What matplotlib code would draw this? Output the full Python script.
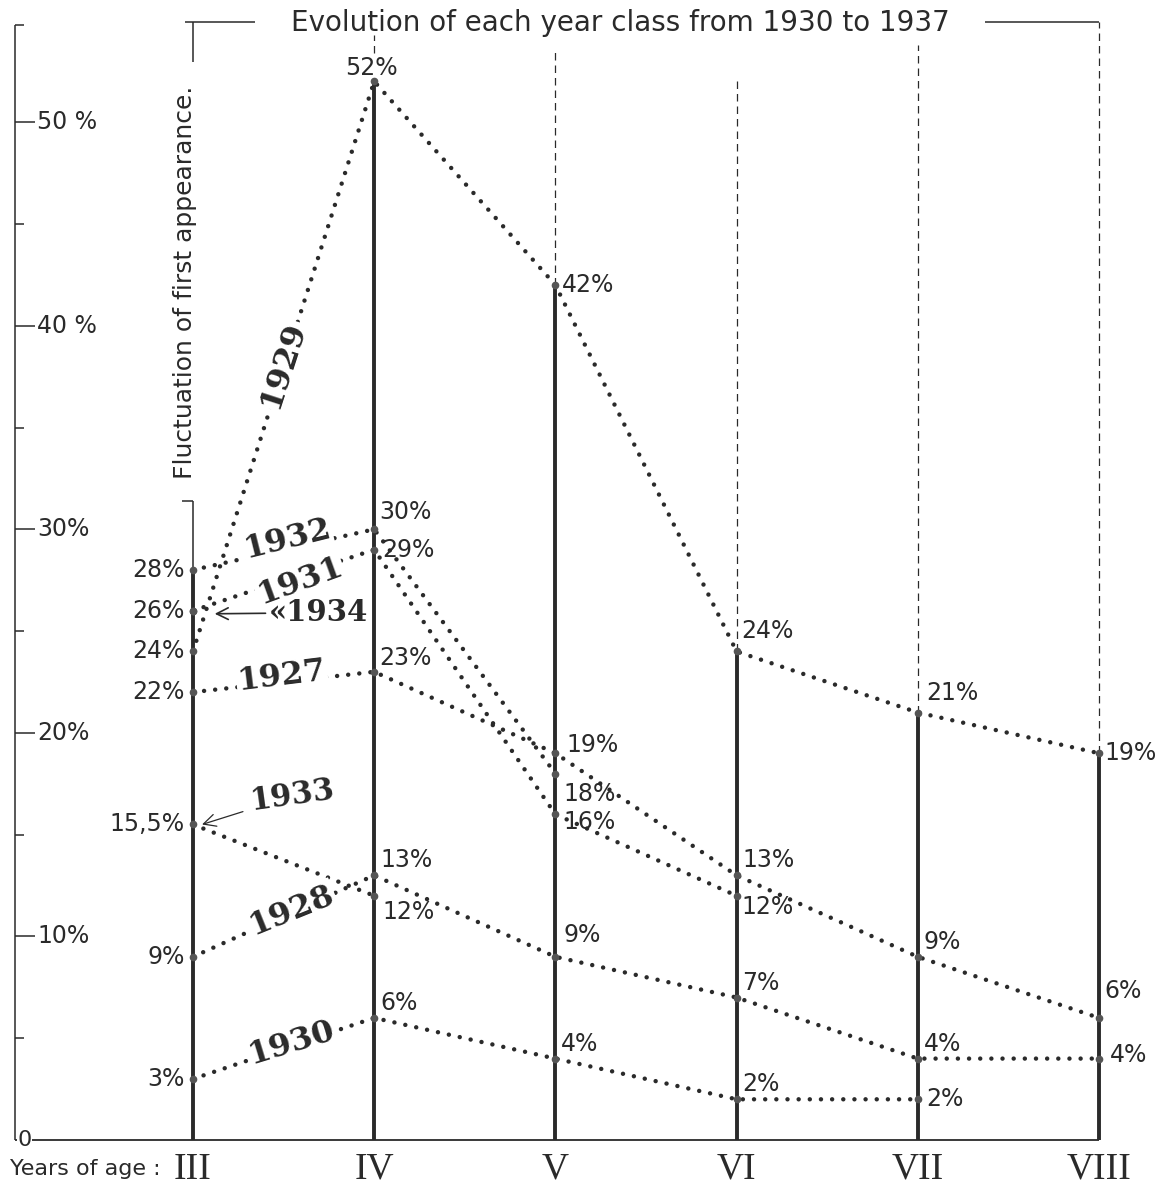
import matplotlib.pyplot as plt

# ages (x axis) and year classes
ages = ["III", "IV", "V", "VI", "VII", "VIII"]
classes = ["1927", "1928", "1929", "1930", "1931", "1932", "1933", "1934"]

# percentage of each year class, starting at age III
c1927 = [22, 23, 19, 13, 9, 6]
c1928 = [9, 13, 9, 7, 4, 4]
c1929 = [24, 52, 42, 24, 21, 19]
c1930 = [3, 6, 4, 2, 2]
c1931 = [26, 29, 16, 12]
c1932 = [28, 30, 18]
c1933 = [15.5, 12]
c1934 = [26]

yticks = [0, 10, 20, 30, 40, 50]
ytick_labels = ["0", "10%", "20%", "30%", "40 %", "50 %"]
yminor = [5, 15, 25, 35, 45]

title = "Evolution of each year class from 1930 to 1937"
side_label = "Fluctuation of first appearance."
xlabel = "Years of age :"

series = dict(zip(classes, [c1927, c1928, c1929, c1930, c1931, c1932, c1933, c1934]))

INK = "#2a2a2a"
LABEL_FONT = ["DejaVu Sans"]
SERIF = ["Liberation Serif", "DejaVu Serif"]
BOLD_SERIF = ["DejaVu Serif"]


def fmt(v):
    return ("%g%%" % v).replace(".", ",")


# label offsets in pixels (dx, dy); default: left of III, right/up elsewhere
label_offsets = {
    ("1929", 1): (-3, 13, "center"),
    ("1929", 2): (7, 0, "left"),
    ("1929", 3): (5, 20, "left"),
    ("1929", 4): (8, 20, "left"),
    ("1929", 5): (5, 0, "left"),
    ("1932", 1): (5, 17, "left"),
    ("1931", 1): (8, 0, "left"),
    ("1927", 1): (5, 14, "left"),
    ("1927", 2): (11, 8, "left"),
    ("1927", 5): (5, 27, "left"),
    ("1932", 2): (8, -20, "left"),
    ("1931", 2): (8, -8, "left"),
    ("1931", 3): (5, -11, "left"),
    ("1933", 1): (8, -16, "left"),
    ("1928", 2): (8, 22, "left"),
    ("1928", 5): (11, 4, "left"),
    ("1930", 4): (8, 0, "left"),
}

fig = plt.figure(figsize=(11.64, 11.96), dpi=100)
ax = fig.add_axes([0, 0, 1, 1])
ax.set_xlim(-1.065, 5.359)
ax.set_ylim(-2.75, 56.0)
ax.axis("off")

xs = list(range(len(ages)))

# vertical age bars up to the highest value at each age, dashed above
tops = [max(v[i] for v in series.values() if len(v) > i) for i in xs]
dash_top = [None, 54.3, 53.5, 52.1, 53.8, 54.9]
for i in xs:
    ax.vlines(i, 0, tops[i], color=INK, lw=2.8, zorder=2)
    if dash_top[i] is not None:
        lo = 53.4 if i == 1 else tops[i]
        ax.vlines(i, lo, dash_top[i], color=INK, lw=0.9, ls=(0, (6, 4)), zorder=1)

# thin line above III, broken by the side label
ax.vlines(0, tops[0], 31.4, color=INK, lw=1.1)
ax.hlines(31.4, -0.06, 0, color=INK, lw=1.1)
ax.vlines(0, 52.95, 54.9, color=INK, lw=1.1)
ax.text(-0.045, 42.15, side_label, rotation=90, ha="center", va="center",
        fontsize=18, family=LABEL_FONT, color=INK)

# title bracket
ax.hlines(54.9, -0.044, 0.34, color=INK, lw=1.1)
ax.hlines(54.9, 4.37, 5, color=INK, lw=1.1)
ax.text(2.36, 54.85, title, ha="center", va="center", fontsize=20,
        family=LABEL_FONT, color=INK)

# left axis
ax.vlines(-0.982, 0, 54.76, color=INK, lw=1.1)
ax.hlines(54.76, -0.982, -0.93, color=INK, lw=1.1)
ax.hlines(yticks[1:], -0.982, -0.87, color=INK, lw=1.1)
ax.hlines(yminor, -0.982, -0.93, color=INK, lw=1.1)
for t, lab in zip(yticks[1:], ytick_labels[1:]):
    ax.text(-0.86, t, lab, ha="left", va="center", fontsize=17,
            family=LABEL_FONT, color=INK)
ax.hlines(0, -0.982, 5, color=INK, lw=1.3)
ax.text(-0.93, 0, ytick_labels[0], ha="center", va="center", fontsize=16,
        family=LABEL_FONT, color=INK,
        bbox=dict(fc="white", ec="none", pad=0.5))

# x labels
ax.text(-1.01, -1.4, xlabel, ha="left", va="center", fontsize=16,
        family=["Liberation Sans Narrow", "DejaVu Sans"], color=INK)
for i, a in zip(xs, ages):
    ax.text(i, -1.45, a, ha="center", va="center", fontsize=27,
            family=SERIF, color=INK)

# dotted year-class lines
for name, vals in series.items():
    px = xs[:len(vals)]
    if len(vals) > 1:
        ax.plot(px, vals, color=INK, lw=3.2, ls=(0, (0.01, 2.5)),
                dash_capstyle="round", zorder=3)
    ax.plot(px, vals, "o", ms=4.5, color="#555555", zorder=4)

# value labels
done = set()
for name, vals in series.items():
    for i, v in enumerate(vals):
        if (i, v) in done:
            continue
        done.add((i, v))
        if (name, i) in label_offsets:
            dx, dy, ha = label_offsets[(name, i)]
        elif i == 0:
            dx, dy, ha = -8, 0, "right"
        else:
            dx, dy, ha = 6, 15, "left"
        ax.annotate(fmt(v), (i, v), xytext=(dx, dy), textcoords="offset pixels",
                    ha=ha, va="center", fontsize=17, family=LABEL_FONT,
                    color=INK, zorder=6)

# year class names along the lines
name_pos = {
    "1929": (0.497, 38.06, 72),
    "1932": (0.52, 29.5, 14),
    "1931": (0.59, 27.45, 20),
    "1927": (0.49, 22.8, 7),
    "1928": (0.545, 11.3, 22),
    "1930": (0.54, 4.75, 17),
}
for name, (x, y, rot) in name_pos.items():
    ax.text(x, y, name, rotation=rot, rotation_mode="anchor", ha="center",
            va="center", fontsize=23, fontweight="bold", family=BOLD_SERIF,
            color=INK, zorder=5,
            bbox=dict(fc="white", ec="none", pad=1))

ax.annotate("\u00ab1934", (0.12, c1934[0] - 0.15), xytext=(0.69, 25.9),
            ha="center", va="center", fontsize=21, fontweight="bold",
            family=BOLD_SERIF, color=INK, zorder=5,
            arrowprops=dict(arrowstyle="->", color=INK, lw=1.2,
                            shrinkA=0, shrinkB=0))
ax.annotate("1933", (0.05, c1933[0]), xytext=(0.55, 16.9), rotation=8,
            ha="center", va="center", fontsize=22, fontweight="bold",
            family=BOLD_SERIF, color=INK, zorder=5,
            arrowprops=dict(arrowstyle="->", color=INK, lw=0.9,
                            shrinkA=2, shrinkB=0))

fig.savefig("out.png", dpi=100, facecolor="white")
